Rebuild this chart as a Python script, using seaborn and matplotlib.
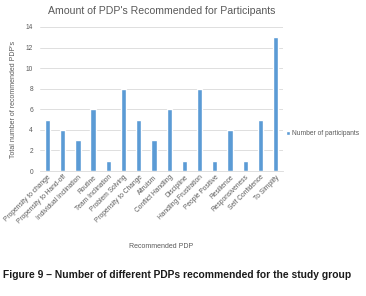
import pandas as pd
import matplotlib
matplotlib.use("Agg")
import matplotlib.pyplot as plt
import seaborn as sns

# data
categories = [
    "Propensity to change", "Propensity to Hand-off", "Individual Inclination",
    "Routine", "Team Inclination", "Problem Solving", "Propensity to Change",
    "Altruism", "Conflict Handling", "Discipline", "Handling Frustration",
    "People Positive", "Resilience", "Responsiveness", "Self Confidence",
    "To Simplify",
]
participants = [5, 4, 3, 6, 1, 8, 5, 3, 6, 1, 8, 1, 4, 1, 5, 13]
yticks = [0, 2, 4, 6, 8, 10, 12, 14]

BAR = "#5B9BD5"
TXT = "#595959"

sns.set_theme(style="white")
plt.rcParams["font.family"] = ["Liberation Sans", "DejaVu Sans"]

df = pd.DataFrame({"PDP": categories, "Number of participants": participants})

fig = plt.figure(figsize=(3.66, 2.96), dpi=100)
ax = fig.add_axes([0.109, 0.422, 0.665, 0.487])

sns.barplot(data=df, x="PDP", y="Number of participants", color=BAR,
            width=0.35, saturation=1, ax=ax, label="Number of participants")

ax.set_ylim(0, 14)
ax.set_yticks(yticks)
ax.yaxis.grid(True, color="#D9D9D9", linewidth=0.6)
ax.set_axisbelow(True)
for s in ["top", "right", "left"]:
    ax.spines[s].set_visible(False)
ax.spines["bottom"].set_color("#D9D9D9")
ax.spines["bottom"].set_linewidth(0.6)
ax.tick_params(axis="both", length=0, labelsize=4.8, colors=TXT)
ax.tick_params(axis="y", pad=5)
ax.tick_params(axis="x", pad=2)
ax.set_xticks(range(len(categories)))
ax.set_xticklabels(categories, rotation=45, ha="right", rotation_mode="anchor")

ax.set_xlabel("Recommended PDP", fontsize=5, color=TXT)
ax.xaxis.set_label_coords(0.5, -0.5)
ax.set_ylabel("Total number of recommended PDP's", fontsize=5, color=TXT)
ax.yaxis.set_label_coords(-0.095, 0.5)
ax.set_title("Amount of PDP's Recommended for Participants", fontsize=7.6,
             color=TXT, pad=9)

ax.legend(loc="center left", bbox_to_anchor=(0.985, 0.26), frameon=False,
          fontsize=4.8, handlelength=0.6, handleheight=0.6, handletextpad=0.4,
          labelcolor=TXT)

fig.text(0.008, 0.071, "Figure 9 \u2013 Number of different PDPs recommended for the study group",
         fontsize=7.4, fontweight="bold", color="#1a1a1a", ha="left", va="center")

fig.savefig("out.png", dpi=100)
